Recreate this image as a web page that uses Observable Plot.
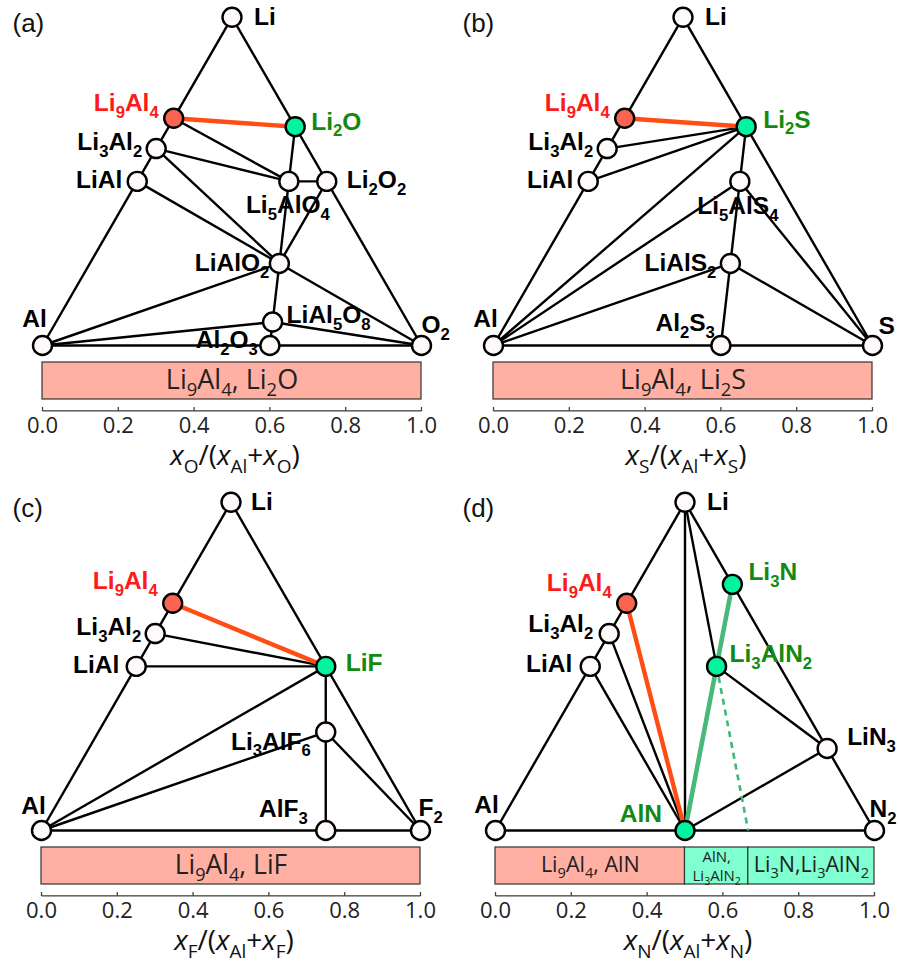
<!DOCTYPE html>
<html>
<head>
<meta charset="utf-8">
<script src="https://cdn.jsdelivr.net/npm/d3@7"></script>
<script src="https://cdn.jsdelivr.net/npm/@observablehq/plot@0.6"></script>
<style>
  body { margin: 0; background: #fff; }
  #wrap { position: relative; width: 900px; height: 964px; overflow: hidden; }
  .panel { position: absolute; width: 450px; height: 482px; }
  .panel svg { overflow: visible; }
</style>
</head>
<body>
<div id="wrap"></div>
<script>
// ---------------- DATA ----------------
const tickValues = [0, 0.2, 0.4, 0.6, 0.8, 1.0];

// (a) Li–Al–O  : atoms = [Li, Al, X]
const phasesA = ["Li","Al","O2","Li9Al4","Li3Al2","LiAl","Li2O","Li2O2","Li5AlO4","LiAlO2","LiAl5O8","Al2O3"];
const atomsA  = [[1,0,0],[0,1,0],[0,0,2],[9,4,0],[3,2,0],[1,1,0],[2,0,1],[2,0,2],[5,1,4],[1,1,2],[1,5,8],[0,2,3]];
const edgesA  = [["Li","Al"],["Li","O2"],["Al","O2"],["Li9Al4","Li5AlO4"],["Li3Al2","Li5AlO4"],["Li3Al2","LiAlO2"],
                 ["LiAl","LiAlO2"],["Li2O","Li5AlO4"],["Li5AlO4","Li2O2"],["Li5AlO4","LiAlO2"],["Li2O2","LiAlO2"],
                 ["LiAlO2","LiAl5O8"],["LiAlO2","O2"],["Al","LiAlO2"],["Al","LiAl5O8"],["LiAl5O8","O2"],["LiAl5O8","Al2O3"]];
const redA = [["Li9Al4","Li2O"]];
const productsA = ["Li2O"];
const barBoundsA = [0, 1];
const barLabelsA = ["Li9Al4, Li2O"];
const barKindsA = ["reactant"];
const axisTitleA = "*x*_{O}/(*x*_{Al}+*x*_{O})";

// (b) Li–Al–S
const phasesB = ["Li","Al","S","Li9Al4","Li3Al2","LiAl","Li2S","Li5AlS4","LiAlS2","Al2S3"];
const atomsB  = [[1,0,0],[0,1,0],[0,0,1],[9,4,0],[3,2,0],[1,1,0],[2,0,1],[5,1,4],[1,1,2],[0,2,3]];
const edgesB  = [["Li","Al"],["Li","S"],["Al","S"],["Li3Al2","Li2S"],["LiAl","Li2S"],["Al","Li2S"],["Li2S","Li5AlS4"],
                 ["Al","Li5AlS4"],["Li5AlS4","S"],["Li5AlS4","LiAlS2"],["Al","LiAlS2"],["LiAlS2","S"],["LiAlS2","Al2S3"]];
const redB = [["Li9Al4","Li2S"]];
const productsB = ["Li2S"];
const barBoundsB = [0, 1];
const barLabelsB = ["Li9Al4, Li2S"];
const barKindsB = ["reactant"];
const axisTitleB = "*x*_{S}/(*x*_{Al}+*x*_{S})";

// (c) Li–Al–F
const phasesC = ["Li","Al","F2","Li9Al4","Li3Al2","LiAl","LiF","Li3AlF6","AlF3"];
const atomsC  = [[1,0,0],[0,1,0],[0,0,2],[9,4,0],[3,2,0],[1,1,0],[1,0,1],[3,1,6],[0,1,3]];
const edgesC  = [["Li","Al"],["Li","F2"],["Al","F2"],["Li3Al2","LiF"],["LiAl","LiF"],["Al","LiF"],["LiF","Li3AlF6"],
                 ["Al","Li3AlF6"],["Li3AlF6","AlF3"],["Li3AlF6","F2"]];
const redC = [["Li9Al4","LiF"]];
const productsC = ["LiF"];
const barBoundsC = [0, 1];
const barLabelsC = ["Li9Al4, LiF"];
const barKindsC = ["reactant"];
const axisTitleC = "*x*_{F}/(*x*_{Al}+*x*_{F})";

// (d) Li–Al–N
const phasesD = ["Li","Al","N2","Li9Al4","Li3Al2","LiAl","Li3N","Li3AlN2","LiN3","AlN"];
const atomsD  = [[1,0,0],[0,1,0],[0,0,2],[9,4,0],[3,2,0],[1,1,0],[3,0,1],[3,1,2],[1,0,3],[0,1,1]];
const edgesD  = [["Li","Al"],["Li","N2"],["Al","N2"],["Li","AlN"],["Li","Li3AlN2"],["Li3Al2","AlN"],["LiAl","AlN"],
                 ["Li3AlN2","LiN3"],["AlN","LiN3"]];
const redD = [["Li9Al4","AlN"]];
const greenD = [["Li3N","AlN"]];
const dashedD = ["Li3AlN2"];           // projected away from Li onto the Al–N2 line
const productsD = ["Li3N","Li3AlN2","AlN"];
const barBoundsD = [0, 0.5, 0.667, 1];
const barLabelsD = ["Li9Al4, AlN", "AlN,\nLi3AlN2", "Li3N,Li3AlN2"];
const barKindsD = ["reactant","product","product"];
const axisTitleD = "*x*_{N}/(*x*_{Al}+*x*_{N})";

const reactant = "Li9Al4";

// ---------------- LAYOUT / STYLE ----------------
const W = 450, H = 482, SIDE = 379, TRI_H = SIDE * Math.sqrt(3) / 2;
const C = {
  edge: "#000", redLine: "#ff4d14", greenLine: "#48b97a", dashed: "#3cb878",
  nodeFill: "#fffafa", redNode: "#fa6450", greenNode: "#00f59f",
  redText: "#ff1a1a", greenText: "#118a11",
  reactantBar: "#ffb0a2", productBar: "#80ffd0"
};
const LABEL_FONT = "Liberation Sans, Arial, Helvetica, sans-serif";
const BODY_FONT = "Open Sans, Noto Sans, sans-serif";

const layouts = [
  { tag: "(a)", left: 0, top: 0, leftX: 42, baseY: 345, barFont: 27, pos: {
      Li:[22,0,"start"], Li9Al4:[-15,-15,"end"], Li2O:[16,-5,"start"], Li3Al2:[-14,-6,"end"], LiAl:[-15,-1,"end"],
      Li2O2:[20,-1,"start"], Li5AlO4:[-1,24,"middle"], LiAlO2:[-10,0,"end"], LiAl5O8:[14,-7,"start"],
      Al2O3:[-12,-5,"end"], Al:[-8,-26,"middle"], O2:[0,-20,"start"] } },
  { tag: "(b)", left: 450, top: 0, leftX: 43, baseY: 345, barFont: 27, pos: {
      Li:[22,0,"start"], Li9Al4:[-15,-15,"end"], Li2S:[17,-7,"start"], Li3Al2:[-14,-6,"end"], LiAl:[-15,-1,"end"],
      Li5AlS4:[-2,25,"middle"], LiAlS2:[-14,0,"end"], Al2S3:[-6,-22,"end"], S:[6,-19,"start"], Al:[-8,-26,"middle"] } },
  { tag: "(c)", left: 0, top: 482, leftX: 41, baseY: 348, barFont: 26.5, pos: {
      Li:[20,0,"start"], Li9Al4:[-15,-22,"end"], Li3Al2:[-14,-6,"end"], LiAl:[-17,-1,"end"], LiF:[20,-3,"start"],
      Li3AlF6:[-15,10,"end"], AlF3:[-18,-21,"end"], Al:[-8,-24,"middle"], F2:[-2,-22,"start"] } },
  { tag: "(d)", left: 450, top: 482, leftX: 45, baseY: 348, barFont: 21.5, pos: {
      Li:[22,0,"start"], Li9Al4:[-15,-20,"end"], Li3Al2:[-16,-9,"end"], LiAl:[-18,-2,"end"], Li3N:[16,-12,"start"],
      Li3AlN2:[13,-12,"start"], LiN3:[20,-11,"start"], AlN:[-23,-16,"end"], Al:[-9,-25,"middle"], N2:[-5,-21,"start"] } }
];

const panels = [
  { phases: phasesA, atoms: atomsA, edges: edgesA, red: redA, green: [], dashed: [], products: productsA,
    bounds: barBoundsA, barLabels: barLabelsA, barKinds: barKindsA, title: axisTitleA },
  { phases: phasesB, atoms: atomsB, edges: edgesB, red: redB, green: [], dashed: [], products: productsB,
    bounds: barBoundsB, barLabels: barLabelsB, barKinds: barKindsB, title: axisTitleB },
  { phases: phasesC, atoms: atomsC, edges: edgesC, red: redC, green: [], dashed: [], products: productsC,
    bounds: barBoundsC, barLabels: barLabelsC, barKinds: barKindsC, title: axisTitleC },
  { phases: phasesD, atoms: atomsD, edges: edgesD, red: redD, green: greenD, dashed: dashedD, products: productsD,
    bounds: barBoundsD, barLabels: barLabelsD, barKinds: barKindsD, title: axisTitleD }
];

// ---------------- HELPERS ----------------
const markup = s => s.replace(/(\d+)/g, "_{$1}");
function tern(a) { const t = a[0] + a[1] + a[2]; return { x: a[2] / t + a[0] / t / 2, y: a[0] / t }; }

const NS = "http://www.w3.org/2000/svg";
function rich(el, ratio) {
  const s = el.textContent;
  if (!/[_*]/.test(s)) return;
  const fs = parseFloat(getComputedStyle(el).fontSize) || 16;
  const shift = fs * 0.27;
  el.textContent = "";
  const re = /_\{([^}]*)\}|\*([^*]*)\*|([^_*]+)/g;
  let m, shifted = false;
  while ((m = re.exec(s))) {
    const t = document.createElementNS(NS, "tspan");
    if (m[1] !== undefined) {
      t.textContent = m[1];
      t.setAttribute("font-size", (fs * ratio).toFixed(1));
      if (!shifted) { t.setAttribute("dy", shift.toFixed(1)); shifted = true; }
    } else {
      t.textContent = m[2] !== undefined ? m[2] : m[3];
      if (m[2] !== undefined) t.setAttribute("font-style", "italic");
      if (shifted) { t.setAttribute("dy", (-shift).toFixed(1)); shifted = false; }
    }
    el.appendChild(t);
  }
}

// ---------------- DRAW ----------------
const wrap = document.getElementById("wrap");

panels.forEach((d, k) => {
  const L = layouts[k];
  const axisY = L.baseY + 66;
  const P = {};
  d.phases.forEach((id, i) => P[id] = { id, ...tern(d.atoms[i]) });
  const seg = pairs => pairs.map(([a, b]) => ({ x1: P[a].x, y1: P[a].y, x2: P[b].x, y2: P[b].y }));
  const dashSegs = d.dashed.map(id => {
    const a = d.atoms[d.phases.indexOf(id)];
    const e = tern([0, a[1], a[2]]);
    return { x1: P[id].x, y1: P[id].y, x2: e.x, y2: e.y };
  });
  const nodes = d.phases.map(id => ({
    ...P[id],
    fill: id === reactant ? C.redNode : d.products.includes(id) ? C.greenNode : C.nodeFill
  }));
  const bars = d.barLabels.map((lab, i) => ({
    x1: d.bounds[i], x2: d.bounds[i + 1], label: markup(lab),
    fill: d.barKinds[i] === "reactant" ? C.reactantBar : C.productBar,
    small: lab.includes("\n")
  }));

  const labelMarks = nodes.map(n => {
    const [dx, dy, anchor] = L.pos[n.id];
    const color = n.id === reactant ? C.redText : d.products.includes(n.id) ? C.greenText : "#000";
    return Plot.text([n], {
      x: "x", y: "y", text: () => markup(n.id), dx, dy, textAnchor: anchor, lineAnchor: "middle",
      fill: color, fontWeight: "bold", fontSize: 24.5, fontFamily: LABEL_FONT
    });
  });

  const linkOpts = { x1: "x1", y1: "y1", x2: "x2", y2: "y2" };

  const chart = Plot.plot({
    width: W, height: H,
    marginLeft: L.leftX, marginRight: W - L.leftX - SIDE,
    marginTop: 0, marginBottom: H - axisY,
    x: { domain: [0, 1] },
    y: { domain: [0, 1], range: [L.baseY, L.baseY - TRI_H], axis: null },
    color: { type: "identity" },
    style: { fontFamily: BODY_FONT, fontSize: "22px", background: "transparent", color: "#222" },
    marks: [
      // phase-diagram tie lines
      Plot.link(seg(d.edges), { ...linkOpts, stroke: C.edge, strokeWidth: 2.4 }),
      Plot.link(dashSegs, { ...linkOpts, stroke: C.dashed, strokeWidth: 2.6, strokeDasharray: "6,5" }),
      Plot.link(seg(d.red), { ...linkOpts, stroke: C.redLine, strokeWidth: 4.4 }),
      Plot.link(seg(d.green), { ...linkOpts, stroke: C.greenLine, strokeWidth: 4.6 }),
      // phases
      Plot.dot(nodes, { x: "x", y: "y", r: 9.5, fill: "fill", stroke: "#000", strokeWidth: 2.4 }),
      ...labelMarks,
      // reaction bar
      Plot.rect(bars, { x1: "x1", x2: "x2", fill: "fill", stroke: "#333", strokeWidth: 1.2,
                        insetTop: L.baseY + 17, insetBottom: 12 }),
      Plot.text(bars.filter(b => !b.small), { x: b => (b.x1 + b.x2) / 2, text: "label", frameAnchor: "bottom",
                        lineAnchor: "middle", dy: -31, fontSize: L.barFont, fill: "#222" }),
      Plot.text(bars.filter(b => b.small), { x: b => (b.x1 + b.x2) / 2, text: "label", frameAnchor: "bottom",
                        lineAnchor: "middle", dy: -31, fontSize: 15, lineHeight: 1.25, fill: "#222" }),
      // axis
      Plot.frame({ fill: "#444", stroke: "none", insetTop: axisY - 1.3 }),
      Plot.tickX(tickValues, { x: v => v, stroke: "#444", strokeWidth: 1.3, insetTop: axisY - 4 }),
      Plot.axisX({ ticks: tickValues, tickFormat: d3.format(".1f"), tickSize: 0, tickPadding: 6,
                   label: null, fontSize: 22, fill: "#222" }),
      Plot.text([d.title], { text: t => t, frameAnchor: "bottom", lineAnchor: "middle", dy: 45, dx: 3,
                   fontSize: 28, fill: "#111" }),
      // panel tag
      Plot.text([L.tag], { text: t => t, frameAnchor: "top-left", textAnchor: "start", lineAnchor: "middle",
                   dx: 12 - L.leftX, dy: L.baseY - 322, fontSize: 26, fontFamily: LABEL_FONT, fill: "#111" })
    ]
  });

  const div = document.createElement("div");
  div.className = "panel";
  div.style.left = L.left + "px";
  div.style.top = L.top + "px";
  div.appendChild(chart);
  wrap.appendChild(div);

  chart.querySelectorAll("text").forEach(t => {
    const lines = t.querySelectorAll(":scope > tspan");
    if (lines.length) lines.forEach(l => rich(l, 0.7)); else rich(t, 0.68);
  });
});
</script>
</body>
</html>
